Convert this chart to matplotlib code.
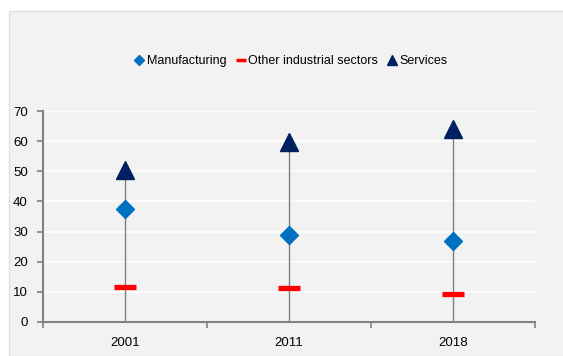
import matplotlib.pyplot as plt
from matplotlib.lines import Line2D
from matplotlib.patches import Rectangle

plt.rcParams['font.family'] = ['Liberation Sans', 'DejaVu Sans']

years = ['2001', '2011', '2018']
manufacturing = [37.5, 29.0, 27.0]
other_industry = [11.5, 11.2, 9.2]
services = [50.5, 59.8, 64.0]

axis_grey = '#808080'

fig = plt.figure(figsize=(5.63, 3.56), dpi=100)
fig.patch.set_facecolor('white')
# grey chart area with thin border
fig.add_artist(Rectangle((9 / 563, 0), 1, 1 - 11 / 356, transform=fig.transFigure,
                         facecolor='#f2f2f2', edgecolor='#d9e2ec', linewidth=1, zorder=0))

ax = fig.add_axes([43 / 563, 1 - 322 / 356, (535 - 43) / 563, (322 - 111) / 356])
ax.set_facecolor('#f2f2f2')

x = list(range(len(years)))

# drop lines from the axis up to the services value
ax.vlines(x, 0, services, color=axis_grey, linewidth=1, zorder=2)
ax.plot(x, manufacturing, linestyle='none', marker='D', markersize=9.5,
        color='#0070c0', zorder=3)
ax.plot(x, other_industry, linestyle='none', marker='_', markersize=16.5,
        markeredgewidth=3.8, color='#ff0000', zorder=3)
ax.plot(x, services, linestyle='none', marker='^', markersize=13,
        color='#002060', zorder=3)

ax.set_xlim(-0.5, 2.5)
ax.set_ylim(0, 70)
ax.set_yticks(range(0, 71, 10))
ax.yaxis.grid(True, color='white', linewidth=1.2)
ax.set_axisbelow(True)

ax.set_xticks(x)
ax.set_xticklabels(years)
ax.set_xticks([-0.5, 0.5, 1.5, 2.5], minor=True)
ax.tick_params(axis='x', which='major', length=0, pad=11, labelsize=9.5)
ax.tick_params(axis='x', which='minor', length=4, width=1.2, color=axis_grey)
ax.tick_params(axis='y', length=4, width=1.2, color=axis_grey, pad=7, labelsize=9.5)

for side in ['top', 'right']:
    ax.spines[side].set_visible(False)
for side in ['left', 'bottom']:
    ax.spines[side].set_color(axis_grey)
    ax.spines[side].set_linewidth(1.5)

handles = [
    Line2D([], [], linestyle='none', marker='D', markersize=5, color='#0070c0'),
    Line2D([], [], linestyle='none', marker='_', markersize=6.5, markeredgewidth=2.5, color='#ff0000'),
    Line2D([], [], linestyle='none', marker='^', markersize=6.5, color='#002060'),
]
fig.legend(handles, ['Manufacturing', 'Other industrial sectors', 'Services'],
           loc='center', bbox_to_anchor=(292 / 563, 1 - 61 / 356), ncol=3,
           frameon=False, fontsize=9, handlelength=0.5, handletextpad=0.35,
           columnspacing=0.9)

fig.savefig('out.png', dpi=100)
